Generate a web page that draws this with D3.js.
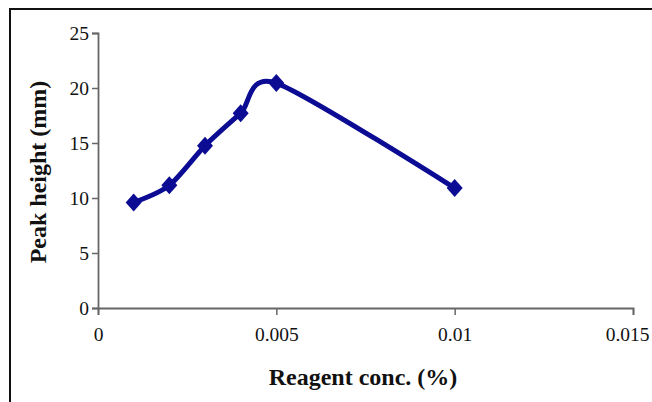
<!DOCTYPE html>
<html><head><meta charset="utf-8">
<script src="https://cdn.jsdelivr.net/npm/d3@7"></script>
<style>body{margin:0;background:#fff}svg{display:block}</style>
</head><body><svg id="c" width="652" height="402"></svg>
<script>
const concentrations = [0.001, 0.002, 0.003, 0.004, 0.005, 0.01];
const peakHeights = [9.6, 11.15, 14.75, 17.7, 20.45, 10.9];
const xTicks = [0, 0.005, 0.01, 0.015];
const xTickLabels = ["0", "0.005", "0.01", "0.015"];
const yTicks = [0, 5, 10, 15, 20, 25];
const xLabel = "Reagent conc. (%)";
const yLabel = "Peak height (mm)";

const svg = d3.select("#c");
const font = "'Liberation Serif','Times New Roman',serif";
// frame
svg.append("rect").attr("x",10).attr("y",9).attr("width",700).attr("height",500)
  .attr("fill","none").attr("stroke","#111").attr("stroke-width",2);

const x = d3.scaleLinear().domain([0,0.015]).range([98,633]);
const y = d3.scaleLinear().domain([0,25]).range([308,33]);

const gy = svg.append("g").attr("transform","translate(98,0)")
  .call(d3.axisLeft(y).tickValues(yTicks).tickSize(6).tickPadding(3).tickFormat(d3.format("d")));
const gx = svg.append("g").attr("transform","translate(0,308)")
  .call(d3.axisBottom(x).tickValues(xTicks).tickSize(7).tickPadding(12).tickFormat((d,i)=>xTickLabels[i]));
[gx,gy].forEach(g=>{
  g.selectAll("path").attr("stroke","#666").attr("stroke-width",1.8);
  g.selectAll("line").attr("stroke","#666").attr("stroke-width",1.5);
  g.selectAll("text").attr("font-family",font).attr("font-size",19.5).attr("fill","#111");
});
gy.selectAll("text").attr("dy","0.33em");
// last x label fits inside the window as in the reference
gx.selectAll(".tick text").filter(d=>d===0.015).attr("text-anchor","end").attr("x",16);

const line = d3.line().x((d,i)=>x(concentrations[i])).y(d=>y(d)).curve(d3.curveCardinal.tension(0.2));
svg.append("path").datum(peakHeights).attr("d",line).attr("fill","none")
  .attr("stroke","#0b0b94").attr("stroke-width",5).attr("stroke-linejoin","round");
svg.selectAll(".m").data(peakHeights).enter().append("path")
  .attr("transform",(d,i)=>`translate(${x(concentrations[i])},${y(d)})`)
  .attr("d","M0,-9L8,0L0,9L-8,0Z").attr("fill","#0b0b94");

svg.append("text").attr("x",363).attr("y",385).attr("text-anchor","middle")
  .attr("font-family",font).attr("font-weight","bold").attr("font-size",24).attr("fill","#111").text(xLabel);
svg.append("text").attr("transform","translate(46,172) rotate(-90)").attr("text-anchor","middle")
  .attr("font-family",font).attr("font-weight","bold").attr("font-size",24).attr("fill","#111").text(yLabel);
</script></body></html>
